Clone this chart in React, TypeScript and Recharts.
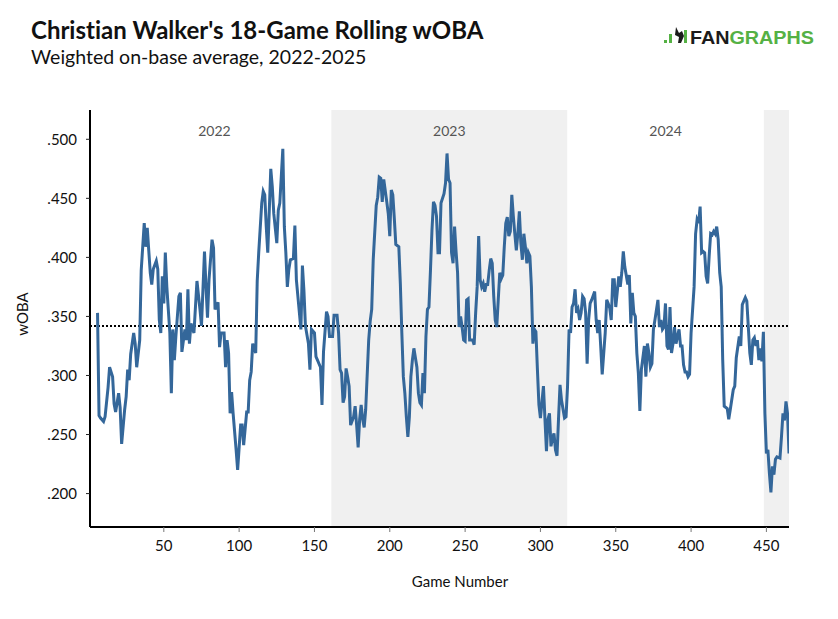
import React from "react";
import { LineChart, Line, XAxis, YAxis, ReferenceLine, ReferenceArea } from "recharts";

// game number of each sampled point, and the 18-game rolling wOBA there
const games = [
  6, 7, 8, 10, 11, 13, 14, 16, 17, 18, 20, 21, 22, 24, 25, 26, 27, 28, 30, 31,
  32, 34, 35, 37, 38, 39, 40, 41, 42, 43, 45, 46, 47, 48, 49, 50, 51, 52, 54, 55,
  56, 57, 58, 60, 61, 62, 64, 65, 66, 67, 68, 70, 71, 72, 74, 75, 77, 78, 79, 80,
  82, 83, 84, 86, 87, 88, 90, 91, 92, 93, 94, 95, 96, 98, 99, 101, 102, 103, 105, 106,
  107, 108, 109, 111, 112, 113, 115, 116, 117, 118, 119, 121, 122, 123, 125, 126, 127, 129, 130, 131,
  132, 133, 134, 136, 137, 138, 140, 141, 142, 143, 144, 146, 147, 148, 150, 151, 152, 154, 155, 156,
  158, 159, 160, 162, 163, 165, 166, 167, 168, 169, 170, 171, 172, 173, 174, 176, 177, 178, 179, 180,
  181, 182, 183, 184, 186, 187, 188, 189, 191, 192, 193, 194, 195, 196, 198, 199, 200, 201, 202, 203,
  204, 206, 207, 208, 209, 210, 211, 212, 213, 214, 215, 216, 218, 219, 220, 221, 222, 223, 224, 225,
  226, 227, 228, 229, 230, 231, 232, 233, 234, 236, 237, 238, 239, 240, 241, 242, 243, 244, 245, 246,
  247, 248, 249, 250, 251, 252, 253, 255, 256, 257, 258, 259, 260, 261, 262, 263, 264, 265, 266, 267,
  268, 269, 270, 271, 272, 273, 274, 275, 276, 277, 278, 279, 280, 281, 282, 283, 284, 285, 286, 287,
  288, 289, 290, 291, 292, 293, 294, 295, 296, 297, 298, 299, 300, 302, 303, 304, 305, 306, 307, 308,
  309, 310, 311, 312, 313, 314, 316, 317, 318, 319, 320, 321, 322, 323, 324, 325, 326, 327, 328, 329,
  330, 331, 332, 333, 334, 336, 337, 338, 339, 340, 341, 343, 344, 345, 346, 347, 348, 349, 350, 352,
  353, 354, 355, 356, 358, 359, 360, 361, 362, 363, 364, 365, 366, 367, 369, 370, 371, 372, 373, 374,
  375, 376, 378, 379, 380, 381, 382, 383, 384, 385, 386, 387, 388, 389, 390, 392, 393, 394, 395, 396,
  397, 398, 399, 400, 402, 403, 404, 405, 406, 407, 408, 409, 410, 411, 412, 413, 414, 415, 416, 417,
  418, 419, 420, 421, 422, 424, 425, 426, 428, 429, 430, 432, 433, 434, 436, 437, 438, 439, 440, 441,
  442, 443, 444, 445, 446, 447, 448, 449, 450, 451, 452, 453, 454, 455, 456, 457, 459, 460, 461, 462,
  463, 464, 465,
];

const woba = [
  0.353, 0.266, 0.264, 0.261, 0.265, 0.29, 0.307, 0.299, 0.276, 0.269, 0.285, 0.273, 0.242, 0.271, 0.282, 0.305, 0.296, 0.318, 0.336, 0.327,
  0.307, 0.33, 0.389, 0.429, 0.409, 0.425, 0.406, 0.387, 0.377, 0.39, 0.397, 0.39, 0.347, 0.336, 0.384, 0.361, 0.404, 0.375, 0.336, 0.285,
  0.339, 0.313, 0.333, 0.367, 0.37, 0.32, 0.339, 0.33, 0.373, 0.327, 0.344, 0.336, 0.358, 0.38, 0.356, 0.342, 0.405, 0.375, 0.349, 0.381,
  0.415, 0.408, 0.356, 0.362, 0.324, 0.336, 0.336, 0.307, 0.33, 0.319, 0.268, 0.286, 0.268, 0.237, 0.22, 0.258, 0.258, 0.241, 0.269, 0.269,
  0.296, 0.303, 0.327, 0.319, 0.38, 0.404, 0.446, 0.456, 0.453, 0.426, 0.404, 0.475, 0.46, 0.437, 0.412, 0.44, 0.446, 0.492, 0.426, 0.404,
  0.375, 0.39, 0.398, 0.399, 0.427, 0.381, 0.353, 0.339, 0.393, 0.372, 0.342, 0.327, 0.305, 0.339, 0.336, 0.316, 0.313, 0.307, 0.275, 0.32,
  0.354, 0.35, 0.333, 0.333, 0.351, 0.351, 0.336, 0.305, 0.302, 0.277, 0.282, 0.306, 0.299, 0.291, 0.258, 0.265, 0.274, 0.258, 0.239, 0.263,
  0.275, 0.263, 0.256, 0.271, 0.33, 0.346, 0.356, 0.398, 0.444, 0.451, 0.468, 0.467, 0.447, 0.466, 0.447, 0.437, 0.418, 0.457, 0.453, 0.433,
  0.411, 0.409, 0.378, 0.336, 0.299, 0.285, 0.265, 0.248, 0.265, 0.299, 0.313, 0.323, 0.307, 0.285, 0.277, 0.275, 0.302, 0.285, 0.333, 0.356,
  0.358, 0.389, 0.423, 0.447, 0.444, 0.435, 0.404, 0.404, 0.446, 0.454, 0.463, 0.488, 0.466, 0.463, 0.404, 0.395, 0.426, 0.405, 0.387, 0.341,
  0.35, 0.341, 0.33, 0.329, 0.364, 0.365, 0.33, 0.33, 0.326, 0.353, 0.375, 0.418, 0.381, 0.375, 0.378, 0.371, 0.377, 0.377, 0.389, 0.399,
  0.395, 0.367, 0.347, 0.341, 0.364, 0.387, 0.382, 0.385, 0.409, 0.429, 0.434, 0.418, 0.422, 0.453, 0.435, 0.42, 0.406, 0.42, 0.439, 0.412,
  0.398, 0.42, 0.409, 0.395, 0.404, 0.401, 0.375, 0.327, 0.339, 0.337, 0.305, 0.275, 0.264, 0.291, 0.263, 0.236, 0.263, 0.268, 0.24, 0.247,
  0.251, 0.237, 0.232, 0.263, 0.292, 0.279, 0.264, 0.265, 0.291, 0.339, 0.336, 0.358, 0.361, 0.373, 0.353, 0.356, 0.347, 0.353, 0.367, 0.365,
  0.353, 0.31, 0.347, 0.361, 0.364, 0.371, 0.347, 0.336, 0.347, 0.325, 0.301, 0.336, 0.364, 0.361, 0.357, 0.347, 0.381, 0.381, 0.358, 0.384,
  0.375, 0.387, 0.405, 0.392, 0.377, 0.385, 0.344, 0.37, 0.353, 0.35, 0.319, 0.302, 0.27, 0.305, 0.325, 0.299, 0.327, 0.319, 0.307, 0.31,
  0.339, 0.347, 0.364, 0.341, 0.347, 0.339, 0.341, 0.361, 0.325, 0.322, 0.358, 0.319, 0.327, 0.341, 0.327, 0.339, 0.325, 0.325, 0.309, 0.303,
  0.303, 0.299, 0.301, 0.336, 0.375, 0.42, 0.432, 0.429, 0.443, 0.404, 0.405, 0.404, 0.384, 0.378, 0.401, 0.42, 0.419, 0.422, 0.42, 0.426,
  0.415, 0.387, 0.375, 0.313, 0.274, 0.272, 0.263, 0.271, 0.288, 0.291, 0.315, 0.333, 0.325, 0.36, 0.366, 0.363, 0.341, 0.319, 0.309, 0.33,
  0.332, 0.325, 0.33, 0.313, 0.323, 0.312, 0.337, 0.268, 0.234, 0.237, 0.217, 0.201, 0.223, 0.216, 0.229, 0.231, 0.23, 0.248, 0.268, 0.262,
  0.278, 0.268, 0.234,
];

const xTicks = [50, 100, 150, 200, 250, 300, 350, 400, 450];
const yTicks = [0.2, 0.25, 0.3, 0.35, 0.4, 0.45, 0.5];

// season spans along the game axis
const seasons = ["2022", "2023", "2024", "2025"];
const seasonStart = [6, 161.2, 317.8, 448.3];
const seasonEnd = [161.2, 317.8, 448.3, 465];
const seasonShaded = [false, true, false, true];

const leagueAvg = 0.342;

const data = games.map((g, i) => ({ game: g, woba: woba[i] }));

const fmt = (v: number) => v.toFixed(3).replace(/^0/, "");

const FONT = "Lato, 'DejaVu Sans', sans-serif";

function Logo() {
  return (
    <svg width={160} height={24} style={{ position: "absolute", left: 662, top: 24 }}>
      <rect x={2} y={16} width={3} height={3} fill="#55b144" />
      <rect x={7} y={10} width={3} height={9} fill="#55b144" />
      <path d="M14 3 L17 9 L20 7 L22 12 L19 19 L16 19 L17 13 L13 11 Z" fill="#1b1b1b" />
      <rect x={22} y={6} width={3} height={13} fill="#55b144" />
      <text x={28} y={19.5} fontFamily="'Liberation Sans', Arial, sans-serif" fontWeight={700} fontSize={18} textLength={124} lengthAdjust="spacingAndGlyphs">
        <tspan fill="#1b1b1b">FAN</tspan>
        <tspan fill="#55b144">GRAPHS</tspan>
      </text>
    </svg>
  );
}

export default function App() {
  return (
    <div style={{ position: "absolute", left: 0, top: 0, width: 838, height: 619, background: "#fff", fontFamily: FONT }}>
      <svg width={838} height={80} style={{ position: "absolute", left: 0, top: 0, fontVariantLigatures: "none" }}>
        <text x={31} y={38.5} fontFamily={FONT} fontWeight={700} fontSize={24} fill="#111">
          Christian Walker's 18-Game Rolling wOBA
        </text>
        <text x={31} y={63.5} fontFamily={FONT} fontSize={19.5} fill="#111">
          Weighted on-base average, 2022-2025
        </text>
      </svg>
      <Logo />
      <LineChart width={838} height={619} data={data} margin={{ top: 110, right: 49, bottom: 0, left: 0 }} style={{ position: "absolute", left: 0, top: 0 }}>
        {seasons.map((s, i) => (
          <ReferenceArea
            key={s}
            x1={seasonStart[i]}
            x2={seasonEnd[i]}
            fill={seasonShaded[i] ? "#f0f0f0" : "#ffffff"}
            fillOpacity={seasonShaded[i] ? 1 : 0}
            stroke="none"
            ifOverflow="hidden"
            label={s === "2025" ? undefined : { value: s, position: "insideTop", offset: 16, fill: "#555", fontSize: 14, fontFamily: FONT }}
          />
        ))}
        <XAxis
          type="number"
          dataKey="game"
          domain={[1, 465]}
          ticks={xTicks}
          allowDataOverflow
          height={92}
          axisLine={{ stroke: "#000", strokeWidth: 2 }}
          tickLine={{ stroke: "#777" }}
          tickSize={5}
          tickMargin={8}
          tick={{ fill: "#111", fontSize: 15, fontFamily: FONT }}
        />
        <YAxis
          type="number"
          domain={[0.1717, 0.5248]}
          ticks={yTicks}
          allowDataOverflow
          width={90}
          tickFormatter={fmt}
          axisLine={{ stroke: "#000", strokeWidth: 2 }}
          tickLine={{ stroke: "#222" }}
          tickSize={4}
          tickMargin={9}
          tick={{ fill: "#111", fontSize: 15, fontFamily: FONT }}
        />
        <ReferenceLine y={leagueAvg} stroke="#000" strokeWidth={2} strokeDasharray="2 2" />
        <Line
          type="linear"
          dataKey="woba"
          stroke="#34679a"
          strokeWidth={3}
          dot={false}
          activeDot={false}
          isAnimationActive={false}
        />
      </LineChart>
      <div style={{ position: "absolute", left: 360, width: 200, top: 572, textAlign: "center", fontSize: 15, color: "#111" }}>
        Game Number
      </div>
      <div
        style={{
          position: "absolute",
          left: 22,
          top: 314,
          transform: "translate(-50%, -50%) rotate(-90deg)",
          fontSize: 15,
          color: "#111",
          whiteSpace: "nowrap",
        }}
      >
        wOBA
      </div>
    </div>
  );
}
